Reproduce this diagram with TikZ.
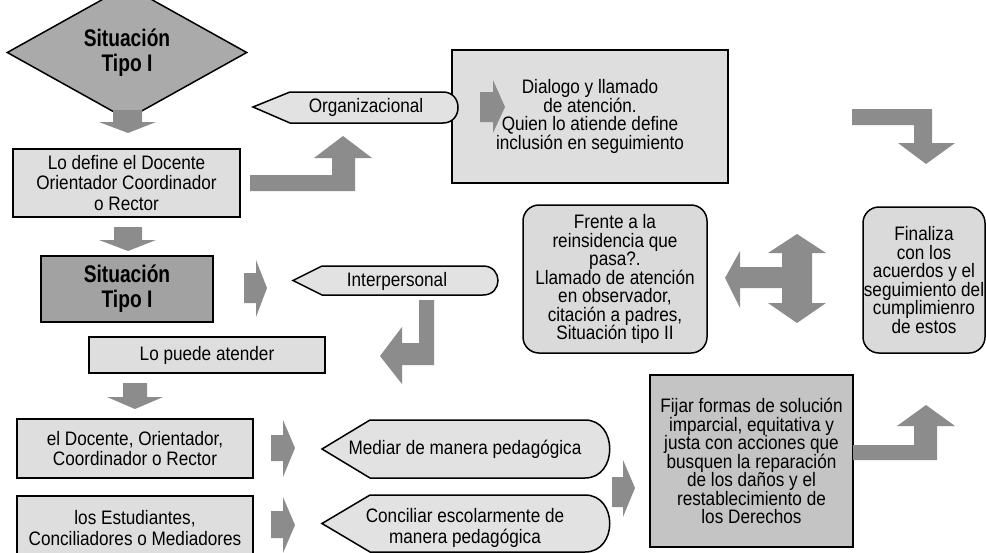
\documentclass[tikz,border=0pt]{standalone}
\usepackage{fontspec}
\setmainfont{Liberation Sans}[FakeStretch=0.88]
\newfontfamily\narrowbold{Liberation Sans}[FakeStretch=0.80]
\usetikzlibrary{shapes.geometric}
\definecolor{lightfill}{HTML}{DEDEDE}
\definecolor{roundfill}{HTML}{DADADA}
\definecolor{midfill}{HTML}{C4C4C4}
\definecolor{darkfill}{HTML}{A2A2A2}
\definecolor{diamfill}{HTML}{AAAAAA}
\definecolor{arrowfill}{HTML}{8C8C8C}
\definecolor{ptrfill}{HTML}{E2E2E2}
\newcommand{\myreg}{\fontsize{19.5}{18.5}\selectfont}
\newcommand{\myregwide}{\fontsize{19.5}{20.5}\selectfont}
\newcommand{\mybold}{\fontsize{24}{25}\selectfont\narrowbold\bfseries}
\tikzset{
  box/.style={draw=black, line width=1.5pt, fill=lightfill, inner sep=0pt, align=center, font=\myreg},
  roundbox/.style={box, fill=roundfill, rounded corners=16pt},
  ptr/.style={draw=black, line width=1.5pt, fill=ptrfill},
  ptrtext/.style={inner sep=0pt, align=center, font=\myreg},
  blockarrow/.style={fill=arrowfill, draw=none},
}
\begin{document}
\begin{tikzpicture}[x=1pt,y=-1pt]
\useasboundingbox (0,0) rectangle (986,552);
\fill[white] (0,0) rectangle (986,552);

% diamond
\node[draw=black, line width=1.5pt, fill=diamfill, shape=diamond, minimum width=240pt, minimum height=89pt, inner sep=0pt, align=center, font=\mybold] (d1) at (127,52.5) {Situación\\Tipo I};

% boxes left column
\node[box, font=\myregwide, minimum width=227pt, minimum height=68pt] (b1) at (126.5,183) {Lo define el Docente\\Orientador Coordinador\\o Rector};
\node[box, fill=darkfill, font=\mybold, minimum width=172pt, minimum height=66pt] (b2) at (127,289) {Situación\\Tipo I};
\node[box, minimum width=236pt, minimum height=36pt] (b3) at (207,355) {Lo puede atender};
\node[box, font=\myregwide, minimum width=236pt, minimum height=59pt] (b4) at (135,448.5) {el Docente, Orientador,\\Coordinador o Rector};
\node[box, font=\myregwide, minimum width=236pt, minimum height=64pt] (b5) at (135,528) {los Estudiantes,\\Conciliadores o Mediadores};

% top right boxes
\node[box, minimum width=276pt, minimum height=133pt] (b6) at (590,116.5) {Dialogo y llamado\\de atención.\\Quien lo atiende define\\inclusión en seguimiento};
\node[roundbox, minimum width=184pt, minimum height=148pt] (r1) at (615,279) {Frente a la\\reinsidencia que\\pasa?.\\Llamado de atención\\en observador,\\citación a padres,\\Situación tipo II};
\node[roundbox, minimum width=122pt, minimum height=146pt] (r2) at (924,280) {Finaliza\\con los\\acuerdos y el\\seguimiento del\\cumplimienro\\de estos};
\node[box, fill=midfill, minimum width=203pt, minimum height=172pt] (b7) at (751.5,461) {Fijar formas de solución\\imparcial, equitativa y\\justa con acciones que\\busquen la reparación\\de los daños y el\\restablecimiento de\\los Derechos};

% pointer shapes
\draw[ptr] (253,107) -- (290,92) -- (443,92) .. controls (463,92) and (463,123) .. (443,123) -- (290,123) -- cycle;
\node[ptrtext] (p1) at (366,107.5) {Organizacional};
\draw[ptr] (293,280.5) -- (322,266) -- (483,266) .. controls (503,266) and (503,295) .. (483,295) -- (322,295) -- cycle;
\node[ptrtext] (p2) at (397,281) {Interpersonal};
\draw[ptr] (322,449) -- (370,420) -- (585,420) .. controls (618,420) and (618,478) .. (585,478) -- (370,478) -- cycle;
\node[ptrtext] (p3) at (465,449) {Mediar de manera pedagógica};
\draw[ptr] (322,523.5) -- (370,495) -- (585,495) .. controls (618,495) and (618,552) .. (585,552) -- (370,552) -- cycle;
\node[ptrtext, font=\myregwide] (p4) at (465,528) {Conciliar escolarmente de\\manera pedagógica};

% block arrows
% down arrows left column
\fill[blockarrow] (113,110) -- (142,110) -- (142,122) -- (156,122) -- (128,133) -- (99,122) -- (113,122) -- cycle;
\fill[blockarrow] (114,227) -- (142,227) -- (142,240) -- (156,240) -- (128,251) -- (99,240) -- (114,240) -- cycle;
\fill[blockarrow] (123,383) -- (147,383) -- (147,397) -- (163,397) -- (135,409) -- (107,397) -- (123,397) -- cycle;
% right arrows
\fill[blockarrow] (244,273) -- (256,273) -- (256,260) -- (267,288) -- (256,317) -- (256,303) -- (244,303) -- cycle;
\fill[blockarrow] (271,435) -- (283,435) -- (283,420) -- (295,448) -- (283,477) -- (283,461) -- (271,461) -- cycle;
\fill[blockarrow] (271,511) -- (283,511) -- (283,497) -- (295,525) -- (283,553) -- (283,538) -- (271,538) -- cycle;
\fill[blockarrow] (480,92) -- (493,92) -- (493,80) -- (505,107) -- (493,133) -- (493,122) -- (480,122) -- cycle;
\fill[blockarrow] (612,477) -- (623,477) -- (623,460) -- (635,488) -- (623,517) -- (623,507) -- (612,507) -- cycle;
% bent arrows
\fill[blockarrow] (250,175) -- (332,175) -- (332,158) -- (314,158) -- (343,136) -- (372,158) -- (355,158) -- (355,191) -- (250,191) -- cycle;
\fill[blockarrow] (852,109) -- (932,109) -- (932,143) -- (955,143) -- (926,164) -- (898,143) -- (914,143) -- (914,125) -- (852,125) -- cycle;
\fill[blockarrow] (419,300) -- (434,300) -- (434,365) -- (402,365) -- (402,384) -- (380,356) -- (402,327) -- (402,343) -- (419,343) -- cycle;
\fill[blockarrow] (853,445) -- (914,445) -- (914,426) -- (897,426) -- (926,405) -- (955,426) -- (937,426) -- (937,460) -- (853,460) -- cycle;
% cross arrow
\fill[blockarrow] (797,234) -- (826,253) -- (812,253) -- (812,303) -- (826,303) -- (797,323) -- (768,303) -- (782,303) -- (782,288) -- (740,288) -- (740,308) -- (725,278) -- (740,251) -- (740,267) -- (782,267) -- (782,253) -- (768,253) -- cycle;
\end{tikzpicture}
\end{document}
